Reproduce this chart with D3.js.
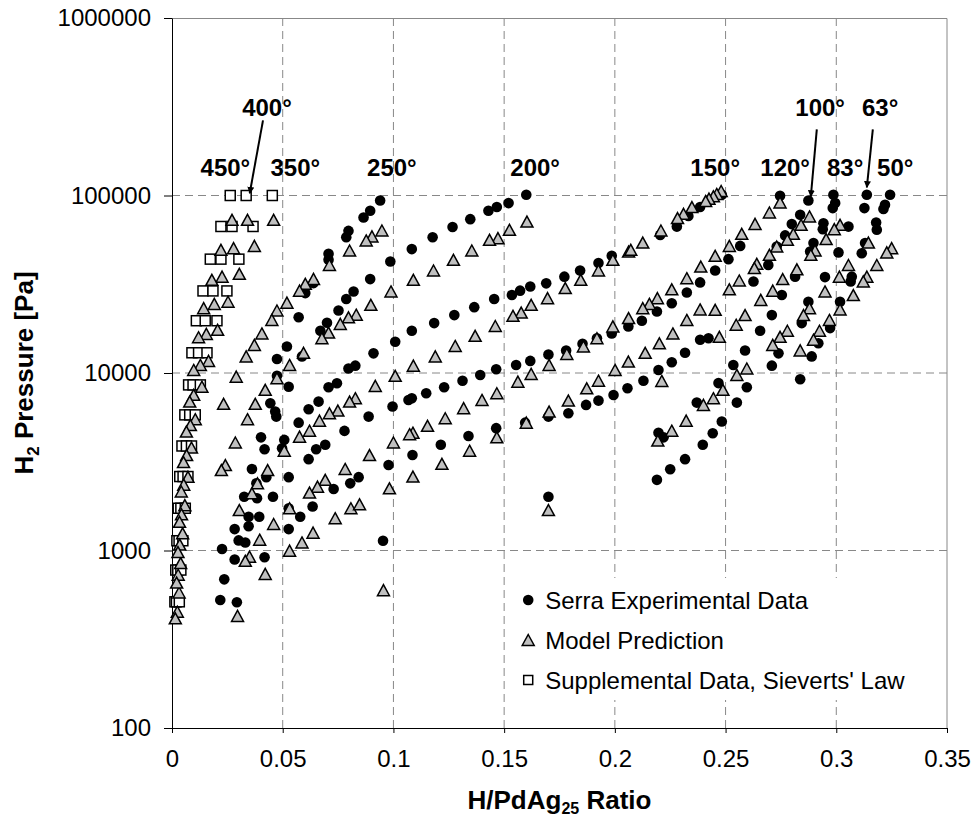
<!DOCTYPE html>
<html>
<head>
<meta charset="utf-8">
<script src="https://cdn.jsdelivr.net/npm/d3@7"></script>
<style>
  body { margin: 0; background: #fff; }
  text { font-family: "Liberation Sans", Arial, sans-serif; fill: #000; }
</style>
</head>
<body>
<svg id="chart"></svg>
<script>
const width = 974;
const height = 822;
const margin = { top: 18, right: 27, bottom: 94, left: 172 };
const plotW = width - margin.left - margin.right;
const plotH = height - margin.top - margin.bottom;

// tick values
const xTicks = [0, 0.05, 0.1, 0.15, 0.2, 0.25, 0.3, 0.35];
const yTicks = [100, 1000, 10000, 100000, 1000000];

// Serra experimental data [H/PdAg25, Pa]
const serraHighT = [
  [0.094,93800],[0.0895,82000],[0.0865,75200],[0.0797,63200],[0.0787,58200],[0.0707,46900],[0.0707,43400],
  [0.1083,49900],[0.0986,42500],[0.0895,33800],[0.082,28800],[0.0787,26100],[0.0752,22500],[0.07,19200],
  [0.067,17300],[0.0639,32100],[0.0602,28200],[0.0572,20600],[0.0519,14100],[0.0474,12000],[0.0587,12400],
  [0.1083,17300],[0.1008,15000],[0.091,12900],[0.0828,11000],[0.0797,10600],[0.0474,9640],[0.0527,8370],
  [0.0707,8310],[0.0745,8750],[0.1083,7210],[0.1068,7050],[0.0996,6470],[0.0662,6900],[0.0617,6250],
  [0.0572,5250],[0.0444,6760],[0.0466,6060],[0.0471,5680],[0.0888,5680],[0.0779,4720],[0.0692,3940],
  [0.0651,3720],[0.0617,3270],[0.0507,4200],[0.0497,3770],[0.0402,4340],[0.0418,3720],[0.0361,2880],
  [0.0426,2590],[0.0527,2590],[0.0381,2390],[0.0384,1970],[0.0326,2010],[0.0456,2010],[0.0346,1550],
  [0.0394,1550],[0.0346,1370],[0.0283,1320],[0.0301,1140],[0.0331,1110],[0.0226,1020],[0.0283,890],
  [0.0418,916],[0.0236,688],[0.0218,526],[0.0293,511],[0.0527,1730],[0.0579,1550],[0.0635,1770],
  [0.0527,1320],[0.073,2220],[0.0805,2390],[0.0843,2590],[0.0978,3030],[0.1086,3450],[0.0953,1135]
];
const serraMidT = [
  [0.16,101000],[0.152,90600],[0.1467,86100],[0.1429,82000],[0.1347,73600],[0.1267,66400],[0.1177,58200],
  [0.1986,45700],[0.1926,41600],[0.1843,37800],[0.1772,34900],[0.169,32000],[0.1618,30700],[0.1572,29100],
  [0.1535,27500],[0.1455,26100],[0.1365,23500],[0.1275,21200],[0.1184,19100],[0.1986,16700],[0.1919,15700],
  [0.1854,14600],[0.178,13400],[0.17,12700],[0.1618,11700],[0.1554,11100],[0.1464,10500],[0.1392,9750],
  [0.1312,9050],[0.1229,8310],[0.1148,7690],[0.2057,8200],[0.1994,7520],[0.1926,6990],[0.187,6610],
  [0.179,5930],[0.17,5680],[0.1595,5250],[0.1464,4890],[0.1339,4420],[0.1214,3940],[0.17,2010]
];
const serraLowT = [
  [0.2746,99600],[0.2874,93800],[0.2837,77900],[0.2799,69000],[0.2769,59600],[0.2731,51600],[0.2693,40600],
  [0.2626,32800],[0.2754,27500],[0.2709,21200],[0.2656,17300],[0.2588,13400],[0.2535,11100],[0.2468,8770],
  [0.2551,6810],[0.237,6810],[0.2596,8310],[0.2566,52000],[0.2513,43800],[0.2453,37800],[0.2385,32400],
  [0.2325,28400],[0.2257,24700],[0.219,22200],[0.2122,19700],[0.2061,18300],[0.2205,60000],[0.228,66800],
  [0.2332,76700],[0.2385,86100],[0.243,94700],[0.2483,101000],[0.2423,15700],[0.2385,15400],[0.2317,13000],
  [0.2257,11500],[0.2197,10400],[0.2129,9050],[0.2987,101000],[0.2995,90600],[0.2984,84900],[0.2942,69800],
  [0.2939,64600],[0.3055,66800],[0.2897,54000],[0.2882,48300],[0.2814,34900],[0.301,47800],[0.2949,34700],
  [0.3017,25200],[0.2874,25200],[0.2844,19100],[0.2739,12900],[0.2709,11000],[0.2837,9220],[0.3138,101000],
  [0.3127,84900],[0.318,70500],[0.3183,64100],[0.313,54000],[0.3115,47300],[0.307,34900],[0.3065,32800],
  [0.3243,101000],[0.322,88700],[0.3213,83900],[0.2972,17900],[0.2919,14700],[0.2889,12400],[0.219,2500],
  [0.225,2870],[0.2317,3270],[0.2397,3940],[0.2442,4580],[0.2483,5330],[0.2197,4610],[0.222,4340]
];

// model prediction
const modelSieverts = [
  [0.0459,72900],[0.0372,52000],[0.0304,36200],[0.0253,25200],[0.0206,17500],[0.0165,11700],[0.0135,8370],
  [0.0105,5490],[0.0088,3800],[0.0072,2600],[0.0058,1800],[0.0048,1250],[0.0039,850],[0.0032,580],
  [0.0341,72900],[0.0278,50500],[0.0226,34900],[0.0191,24500],[0.0155,16600],[0.0128,11100],[0.0098,7530],
  [0.0083,5090],[0.0066,3450],[0.0053,2350],[0.0043,1600],[0.0035,1080],[0.0028,730],[0.0024,452],
  [0.0271,72900],[0.0221,49400],[0.018,33500],[0.0143,23200],[0.012,15900],[0.0098,10400],[0.008,6900],
  [0.0065,4680],[0.0052,3150],[0.0042,2150],[0.0034,1450],[0.0027,980],[0.0021,660],[0.0015,415]
];
const modelHighT = [
  [0.0948,63500],[0.0903,58800],[0.0877,55800],[0.0802,49000],[0.0711,40600],[0.0639,33900],[0.0602,31800],
  [0.0576,29100],[0.0519,24900],[0.0474,22500],[0.0451,19900],[0.0406,16700],[0.0372,14400],[0.0335,12400],
  [0.029,9540],[0.0594,13000],[0.0531,11100],[0.109,33500],[0.0989,28800],[0.0898,24200],[0.0832,21300],
  [0.0797,20600],[0.076,18900],[0.0707,16900],[0.0677,15700],[0.109,11000],[0.1008,9640],[0.0474,9350],
  [0.0421,8040],[0.0233,6700],[0.0376,6700],[0.0341,5490],[0.0918,8460],[0.0828,7210],[0.0802,6900],
  [0.0749,6140],[0.0711,5930],[0.0666,5390],[0.0621,4730],[0.0576,4380],[0.0507,3650],[0.0286,4060],
  [0.0241,3030],[0.0223,2840],[0.0432,2840],[0.0386,2390],[0.0361,2100],[0.0304,1690],[0.0459,1410],
  [0.0396,1150],[0.035,923],[0.0331,875],[0.0421,738],[0.0296,428],[0.0892,3450],[0.0782,2880],
  [0.0692,2500],[0.0657,2290],[0.0621,2120],[0.0531,1730],[0.0737,1520],[0.0808,1730],[0.0847,1820],
  [0.0637,1260],[0.0587,1110],[0.0531,998],[0.1,4060],[0.1088,4610],[0.0982,2240],[0.1088,2610],[0.0955,598]
];
const modelMidT = [
  [0.1603,71300],[0.1524,64100],[0.1472,57500],[0.1434,56300],[0.1354,49000],[0.1271,43400],[0.1181,37800],
  [0.1991,43400],[0.1926,37800],[0.1846,33500],[0.1776,30100],[0.1696,26400],[0.1622,24200],[0.1577,21900],
  [0.154,21000],[0.146,18400],[0.1369,16200],[0.1279,14200],[0.1189,12400],[0.2062,48300],[0.2062,20400],
  [0.1991,18300],[0.1919,15700],[0.1858,14100],[0.1783,12800],[0.1703,11100],[0.1622,9880],[0.1562,8940],
  [0.1467,7690],[0.14,7050],[0.1317,6340],[0.1234,5560],[0.1154,5040],[0.1073,4520],[0.2001,10400],
  [0.1926,9050],[0.1873,8200],[0.179,6990],[0.1703,6060],[0.16,5250],[0.1467,4340],[0.1344,3650],
  [0.1219,3080],[0.17,1690]
];
const modelLowT = [
  [0.248,106000],[0.246,102000],[0.2445,99000],[0.2425,96000],[0.241,93000],[0.2348,86100],[0.231,78900],
  [0.2283,74600],[0.2208,63500],[0.2126,54300],[0.2072,49400],[0.2746,91400],[0.2698,80200],[0.2633,69200],
  [0.2573,60800],[0.2517,52000],[0.2453,45700],[0.2388,39800],[0.2325,34200],[0.2257,29600],[0.2192,26400],
  [0.2156,24500],[0.2126,23200],[0.2879,76200],[0.2841,68400],[0.2806,60800],[0.2779,56300],[0.2731,51600],
  [0.2698,46300],[0.2641,41200],[0.263,39000],[0.2562,33200],[0.2517,29600],[0.2453,22700],[0.2385,22800],
  [0.2325,19900],[0.2262,16700],[0.2201,14700],[0.2137,13000],[0.2061,11600],[0.2212,9020],[0.3017,68400],
  [0.2991,64600],[0.2954,56800],[0.2904,49000],[0.2885,46300],[0.2822,38400],[0.2758,33800],[0.2713,29100],
  [0.2659,25800],[0.2588,21200],[0.2548,18700],[0.2472,16000],[0.2551,9750],[0.2596,10600],[0.2488,8040],
  [0.2445,7210],[0.24,6610],[0.3145,54300],[0.3055,40600],[0.3014,34900],[0.2949,28800],[0.2879,23200],
  [0.2852,21200],[0.2779,17300],[0.2746,16000],[0.2713,14400],[0.2837,13400],[0.325,50500],[0.3228,47800],
  [0.3183,40600],[0.3138,34900],[0.3122,32800],[0.3077,27500],[0.3017,22800],[0.2969,19900],[0.2924,17300],
  [0.2897,15400],[0.2194,4160],[0.2257,4730],[0.2322,5390]
];

// supplemental data (Sieverts' law) for 450, 400, 350 deg
const supplemental = [
  [0.0263,100000],[0.0221,66900],[0.0173,43800],[0.014,29000],[0.011,19700],[0.009,13000],[0.0075,8570],
  [0.0058,5810],[0.0045,3880],[0.0035,2610],[0.0028,1730],[0.0022,1135],[0.0017,776],[0.0013,514],
  [0.0335,100000],[0.0271,66900],[0.0221,43800],[0.0185,29000],[0.015,19700],[0.012,13000],[0.0095,8570],
  [0.008,5810],[0.0065,3880],[0.005,2610],[0.004,1730],[0.0032,1135],[0.0026,776],[0.002,514],
  [0.0453,100000],[0.0366,66900],[0.0302,43800],[0.0248,29000],[0.0203,19700],[0.0158,13000],[0.0128,8570],
  [0.0105,5810],[0.0088,3880],[0.0072,2610],[0.006,1730],[0.0049,1135],[0.004,776],[0.0033,514]
];

// isotherm labels [text, x, pressure at baseline]
const tempLabels = [
  ["450°", 0.0241, 129000], ["400°", 0.0429, 281000], ["350°", 0.0557, 129000],
  ["250°", 0.0993, 129000], ["200°", 0.164, 129000], ["150°", 0.2453, 129000],
  ["120°", 0.2769, 129000], ["100°", 0.2927, 281000], ["83°", 0.304, 129000],
  ["63°", 0.3198, 281000], ["50°", 0.3266, 129000]
];
const labelArrows = [
  [0.0411, 265000, 0.0351, 103000],
  [0.2912, 236000, 0.2885, 98600],
  [0.3165, 236000, 0.3138, 111000]
];

const legendLabels = ["Serra Experimental Data", "Model Prediction", "Supplemental Data, Sieverts' Law"];

const svg = d3.select("#chart")
  .attr("width", width)
  .attr("height", height);

const x = d3.scaleLinear().domain([0, 0.35]).range([0, plotW]);
const y = d3.scaleLog().domain([100, 1000000]).range([plotH, 0]);

const g = svg.append("g").attr("transform", `translate(${margin.left},${margin.top})`);

// gridlines
g.append("g")
  .selectAll("line")
  .data(xTicks.slice(1, -1))
  .join("line")
  .attr("x1", d => x(d)).attr("x2", d => x(d))
  .attr("y1", 0).attr("y2", plotH)
  .attr("stroke", "#888").attr("stroke-dasharray", "8,5");

g.append("g")
  .selectAll("line")
  .data(yTicks.slice(1, -1))
  .join("line")
  .attr("x1", 0).attr("x2", plotW)
  .attr("y1", d => y(d)).attr("y2", d => y(d))
  .attr("stroke", "#888").attr("stroke-dasharray", "8,5");

// top / right border
g.append("path")
  .attr("d", `M0,0.5H${plotW}V${plotH}`)
  .attr("fill", "none")
  .attr("stroke", "#888");

// legend box (covers gridlines)
const legend = g.append("g").attr("transform", `translate(${x(0.155)},${y(700)})`);
legend.append("rect")
  .attr("width", plotW - x(0.155) - 1)
  .attr("height", 122)
  .attr("fill", "#fff");

// axes
const xAxis = g.append("g")
  .attr("transform", `translate(0,${plotH})`)
  .call(d3.axisBottom(x).tickValues(xTicks).tickFormat(d => d).tickSize(5).tickPadding(17).tickSizeOuter(0));
const yAxis = g.append("g")
  .call(d3.axisLeft(y).tickValues(yTicks).tickFormat(d3.format("d")).tickSize(8).tickPadding(13).tickSizeOuter(0));

[xAxis, yAxis].forEach(a => {
  a.select(".domain").attr("stroke", "#000");
  a.selectAll(".tick line").attr("stroke", "#000");
  a.selectAll("text").attr("font-size", "24px").attr("font-family", "Liberation Sans, Arial, sans-serif");
});

// markers
const triPath = "M0,-5.5L6,5.5L-6,5.5Z";

const serra = serraHighT.concat(serraMidT, serraLowT);
const model = modelSieverts.concat(modelHighT, modelMidT, modelLowT);

g.append("g")
  .selectAll("circle")
  .data(serra)
  .join("circle")
  .attr("cx", d => x(d[0]))
  .attr("cy", d => y(d[1]))
  .attr("r", 5.3)
  .attr("fill", "#000");

g.append("g")
  .selectAll("rect")
  .data(supplemental)
  .join("rect")
  .attr("x", d => x(d[0]) - 5)
  .attr("y", d => y(d[1]) - 5)
  .attr("width", 10).attr("height", 10)
  .attr("fill", "#fff").attr("stroke", "#000").attr("stroke-width", 1.5);

g.append("g")
  .selectAll("path")
  .data(model)
  .join("path")
  .attr("transform", d => `translate(${x(d[0])},${y(d[1])})`)
  .attr("d", triPath)
  .attr("fill", "#c0c0c0").attr("stroke", "#000").attr("stroke-width", 1.5);

// isotherm labels
g.append("g")
  .selectAll("text")
  .data(tempLabels)
  .join("text")
  .attr("x", d => x(d[1]))
  .attr("y", d => y(d[2]))
  .attr("text-anchor", "middle")
  .attr("font-size", "24px")
  .attr("font-weight", "bold")
  .text(d => d[0]);

svg.append("defs").append("marker")
  .attr("id", "head")
  .attr("viewBox", "0 0 10 10")
  .attr("refX", 9).attr("refY", 5)
  .attr("markerWidth", 7).attr("markerHeight", 7)
  .attr("markerUnits", "userSpaceOnUse")
  .attr("orient", "auto")
  .append("path").attr("d", "M0,0L10,5L0,10Z").attr("fill", "#000");

g.append("g")
  .selectAll("line")
  .data(labelArrows)
  .join("line")
  .attr("x1", d => x(d[0])).attr("y1", d => y(d[1]))
  .attr("x2", d => x(d[2])).attr("y2", d => y(d[3]))
  .attr("stroke", "#000").attr("stroke-width", 2)
  .attr("marker-end", "url(#head)");

// legend items
const rowH = 40;
legendLabels.forEach((label, i) => {
  const row = legend.append("g").attr("transform", `translate(13,${22 + i * rowH})`);
  if (i === 0) row.append("circle").attr("r", 5.3).attr("fill", "#000");
  if (i === 1) row.append("path").attr("d", triPath).attr("fill", "#c0c0c0").attr("stroke", "#000").attr("stroke-width", 1.5);
  if (i === 2) row.append("rect").attr("x", -4.5).attr("y", -4.5).attr("width", 9).attr("height", 9)
    .attr("fill", "#fff").attr("stroke", "#000").attr("stroke-width", 1.5);
  row.append("text")
    .attr("x", 17).attr("dy", "0.36em")
    .attr("font-size", "24px")
    .text(label);
});

// axis titles
const xTitle = svg.append("text")
  .attr("x", margin.left + plotW / 2)
  .attr("y", 809)
  .attr("text-anchor", "middle")
  .attr("font-size", "26px")
  .attr("font-weight", "bold");
xTitle.append("tspan").text("H/PdAg");
xTitle.append("tspan").attr("font-size", "16px").attr("dy", 5).text("25");
xTitle.append("tspan").attr("dy", -5).text(" Ratio");

const yTitle = svg.append("text")
  .attr("transform", `translate(33,${margin.top + plotH / 2}) rotate(-90)`)
  .attr("text-anchor", "middle")
  .attr("font-size", "26px")
  .attr("font-weight", "bold");
yTitle.append("tspan").text("H");
yTitle.append("tspan").attr("font-size", "17px").attr("dy", 6).text("2");
yTitle.append("tspan").attr("dy", -6).text(" Pressure [Pa]");
</script>
</body>
</html>
